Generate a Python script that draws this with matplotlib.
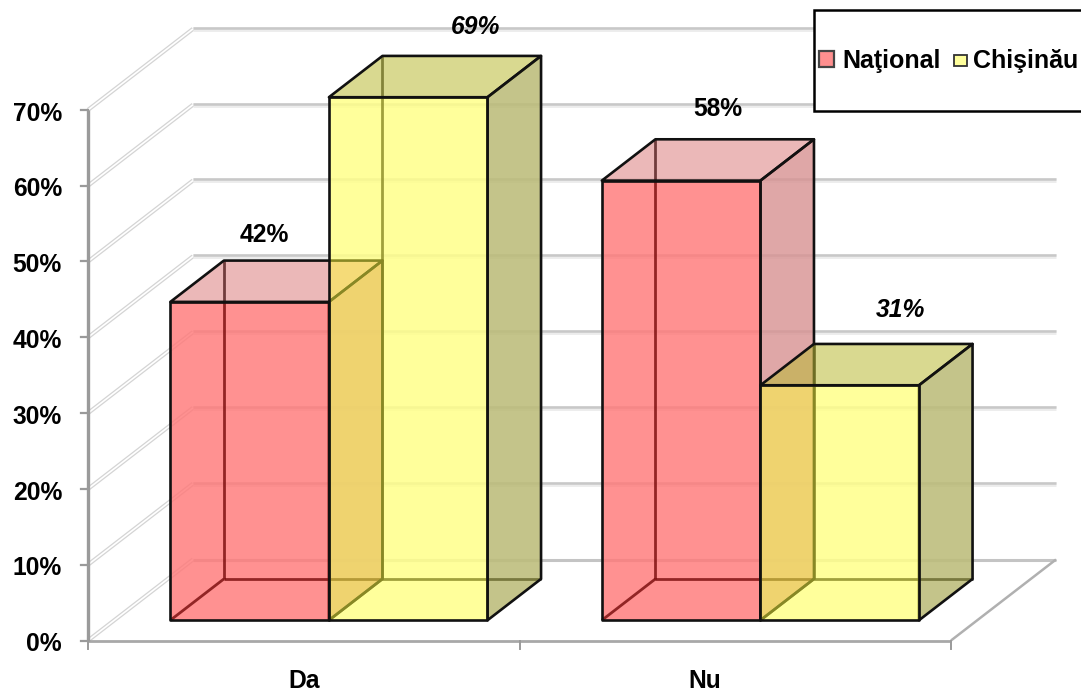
import matplotlib
matplotlib.use("Agg")
import matplotlib.pyplot as plt
from matplotlib.patches import Polygon, Rectangle

plt.rcParams['font.family'] = ['Liberation Sans', 'DejaVu Sans']

categories = ['Da', 'Nu']
series_names = ['Naţional', 'Chişinău']
national = [42, 58]
chisinau = [69, 31]
y_ticks = [0, 10, 20, 30, 40, 50, 60, 70]

W = 1081
H = 694
# pixels per unit on the front plane
PX_X = 431.5
PX_Y = 7.58
X0 = 88
Y0 = 640.5
# how far one full depth moves a point
DX = 105 / PX_X
DY = 81 / PX_Y
BAR_D0 = 0.25
BAR_D1 = 0.76
FS = 17.7

fig = plt.figure(figsize=(W / 100, H / 100), dpi=100)
ax = fig.add_axes([0, 0, 1, 1])
ax.set_xlim(-X0 / PX_X, (W - X0) / PX_X)
ax.set_ylim(-(H - Y0) / PX_Y, Y0 / PX_Y)
ax.axis('off')


def proj(x, y, d):
    return (x + d * DX, y + d * DY)


def px(x, y):
    return (x / W, 1 - y / H)


def line(p1, p2, **kw):
    ax.plot([p1[0], p2[0]], [p1[1], p2[1]], solid_capstyle='butt', **kw)


# walls
for v in y_ticks:
    a = proj(0, v, 0)
    b = proj(0, v, 1)
    c = proj(2, v, 1)
    line(a, b, color='#d4d4d4', lw=3, zorder=1)
    line(a, b, color='white', lw=1.2, zorder=1.1)
    if v > 0:
        line(b, c, color='#ececec', lw=3.5, zorder=1)
        line((b[0], b[1] + 0.15), (c[0], c[1] + 0.15), color='#c8c8c8', lw=1.8, zorder=1.2)

# floor
line(proj(0, 0, 1), proj(2, 0, 1), color='#c4c4c4', lw=2.2, zorder=1.2)
line(proj(2, 0, 0), proj(2, 0, 1), color='#b0b0b0', lw=1.8, zorder=1.2)
line(proj(0, 0, 0), proj(2, 0, 0), color='#a8a8a8', lw=2, zorder=1.3)
line(proj(0, 0, 0), proj(0, 70, 0), color='#9a9a9a', lw=2.4, zorder=1.3)

for v in y_ticks:
    ax.plot([-7 / PX_X, 0], [v, v], color='#9a9a9a', lw=1.6, zorder=1.3)
    ax.text(-26 / PX_X, v - 0.5, '%d%%' % v, ha='right', va='center', fontsize=FS,
            fontweight='bold', color='black')
for i in range(3):
    ax.plot([i, i], [0, -8 / PX_Y], color='#9a9a9a', lw=1.4, zorder=1.3)

label_x = [0.5, 1.43]
for lx, cat in zip(label_x, categories):
    ax.text(lx, -5.4, cat, ha='center', va='center', fontsize=FS, fontweight='bold', color='black')


def bar(x0, x1, v, front, top, side, z):
    d0, d1 = BAR_D0, BAR_D1
    # wash out the grid behind the bar
    outline = [(x0, 0, d0), (x1, 0, d0), (x1, 0, d1), (x1, v, d1), (x0, v, d1), (x0, v, d0)]
    ax.add_patch(Polygon([proj(*p) for p in outline], closed=True, facecolor=(1, 1, 1, 0.7),
                         edgecolor='none', zorder=1.5))
    # back edges, seen through the faces
    for p1, p2 in [((x0, 0, d1), (x1, 0, d1)), ((x0, 0, d1), (x0, v, d1)), ((x0, 0, d0), (x0, 0, d1))]:
        line(proj(*p1), proj(*p2), color='#111111', lw=2, alpha=0.8, zorder=z)
    faces = [
        ([(x0, v, d0), (x1, v, d0), (x1, v, d1), (x0, v, d1)], top),
        ([(x1, 0, d0), (x1, 0, d1), (x1, v, d1), (x1, v, d0)], side),
        ([(x0, 0, d0), (x1, 0, d0), (x1, v, d0), (x0, v, d0)], front),
    ]
    for pts, col in faces:
        ax.add_patch(Polygon([proj(*p) for p in pts], closed=True, facecolor=col,
                             edgecolor='#111111', lw=1.9, joinstyle='round', zorder=z + 0.1))


red_front = (1, 0, 0, 0.43)
red_top = (200 / 255, 52 / 255, 52 / 255, 0.35)
red_side = (175 / 255, 37 / 255, 37 / 255, 0.40)
yel_front = (1, 1, 57 / 255, 0.50)
yel_top = (186 / 255, 186 / 255, 53 / 255, 0.55)
yel_side = (157 / 255, 157 / 255, 60 / 255, 0.60)

for i in range(len(categories)):
    bar(i + 0.13, i + 0.4975, national[i], red_front, red_top, red_side, 2 + i)
    bar(i + 0.4975, i + 0.865, chisinau[i], yel_front, yel_top, yel_side, 2.5 + i)

# value labels, each one moved by hand from the top of its bar
nat_off = [(15, 67), (37, 72)]
chi_off = [(67, 70), (61, 75)]
for i in range(len(categories)):
    top_n = proj(i + 0.314, national[i], BAR_D0)
    top_c = proj(i + 0.681, chisinau[i], BAR_D0)
    ax.annotate('%d%%' % national[i], top_n, xytext=nat_off[i], textcoords='offset pixels',
                ha='center', va='center', fontsize=FS, fontweight='bold', zorder=8)
    ax.annotate('%d%%' % chisinau[i], top_c, xytext=chi_off[i], textcoords='offset pixels',
                ha='center', va='center', fontsize=FS, fontweight='bold', style='italic', zorder=8)

# legend box runs off the right edge
x, y = px(814, 111)
ax.add_patch(Rectangle((x, y), 1.0, 101 / H, transform=ax.transAxes, facecolor='white',
                       edgecolor='black', lw=1.8, zorder=9, clip_on=False))
x, y = px(819, 67)
ax.add_patch(Rectangle((x, y), 15 / W, 16 / H, transform=ax.transAxes, facecolor='#ff8f8f',
                       edgecolor='#444444', lw=1.6, zorder=10))
x, y = px(954, 66)
ax.add_patch(Rectangle((x, y), 13 / W, 11 / H, transform=ax.transAxes, facecolor='#ffff9c',
                       edgecolor='#333333', lw=1.3, zorder=10))
x, y = px(842, 61)
ax.text(x, y, series_names[0], transform=ax.transAxes, ha='left', va='center', fontsize=18,
        fontweight='bold', zorder=10)
x, y = px(973, 61)
ax.text(x, y, series_names[1], transform=ax.transAxes, ha='left', va='center', fontsize=18,
        fontweight='bold', zorder=10)

fig.savefig('out.png', dpi=100, facecolor='white')
